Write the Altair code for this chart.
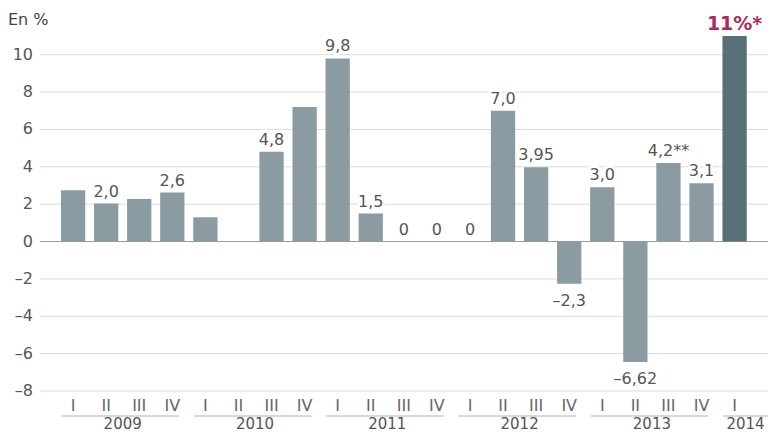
import altair as alt
import pandas as pd

# ---- data ----
quarters = ["I", "II", "III", "IV"] * 5 + ["I"]
years = [2009] * 4 + [2010] * 4 + [2011] * 4 + [2012] * 4 + [2013] * 4 + [2014]
values = [2.75, 2.03, 2.27, 2.62, 1.3, None, 4.8, 7.2, 9.8, 1.5, 0, 0,
          0, 7.0, 3.98, -2.26, 2.9, -6.45, 4.2, 3.12, 11.0]
labels = ["", "2,0", "", "2,6", "", "", "4,8", "", "9,8", "1,5", "0", "0",
          "0", "7,0", "3,95", "–2,3", "3,0", "–6,62", "4,2**", "3,1", "11%*"]
highlight = [False] * 20 + [True]

year_names = ["2009", "2010", "2011", "2012", "2013", "2014"]
year_first = [0, 4, 8, 12, 16, 20]
year_last = [3, 7, 11, 15, 19, 20]

y_ticks = [-8, -6, -4, -2, 0, 2, 4, 6, 8, 10]
y_tick_labels = ["–8", "–6", "–4", "–2", "0", "2", "4", "6", "8", "10"]

# ---- layout constants ----
W, H = 728, 355
X_MIN, X_MAX = -1, 21.01
HALF = 0.367
FONT = "DejaVu Sans"
BAR = "#8a9ba1"
BAR_DARK = "#5a7079"
TXT = "#555555"
RED = "#b3285c"

df = pd.DataFrame({
    "idx": list(range(len(values))),
    "quarter": quarters,
    "year": years,
    "value": values,
    "label": labels,
    "hl": highlight,
})

last_group = len(year_names) - 1
ydf = pd.DataFrame({
    "year": year_names,
    "first": year_first,
    "last": year_last,
})
ydf["x0"] = ydf["first"] - 0.35
ydf["x1"] = [l + 0.2 if i < last_group else X_MAX for i, l in enumerate(ydf["last"])]
ydf["xm"] = [(f + l) / 2 if i < last_group else (r0 + r1) / 2
             for i, (f, l, r0, r1) in enumerate(zip(ydf["first"], ydf["last"], ydf["x0"], ydf["x1"]))]

tdf = pd.DataFrame({"v": y_ticks, "t": y_tick_labels})

xs = alt.Scale(domain=[X_MIN, X_MAX], nice=False, zero=False)
ys = alt.Scale(domain=[-8, 11], nice=False, zero=False)

base = alt.Chart(df)

grid = alt.Chart(tdf).mark_rule(strokeWidth=1).encode(
    y=alt.Y("v:Q", scale=ys, axis=None),
    color=alt.condition("datum.v === 0", alt.value("#9a9a9a"), alt.value("#dcdcdc")),
)
ticklab = alt.Chart(tdf).mark_text(align="right", baseline="middle", fontSize=16,
                                   font=FONT, color=TXT).encode(
    y=alt.Y("v:Q"), x=alt.value(-7), text="t:N")

title = alt.Chart(tdf).transform_filter("datum.v === 0").mark_text(
    align="left", baseline="alphabetic", fontSize=16, font=FONT, color="#444444"
).encode(x=alt.value(-32), y=alt.value(-11), text=alt.value("En %"))

bars = base.transform_filter("isValid(datum.value)").transform_calculate(
    x0=f"datum.idx - {HALF}", x1=f"datum.idx + {HALF}"
).mark_rect().encode(
    x=alt.X("x0:Q", scale=xs, axis=None),
    x2="x1:Q",
    y=alt.Y("value:Q"),
    y2=alt.datum(0),
    color=alt.condition("datum.hl", alt.value(BAR_DARK), alt.value(BAR)),
)

pos = base.transform_filter("datum.label != '' && datum.value >= 0 && !datum.hl")
neg = base.transform_filter("datum.label != '' && datum.value < 0")


def lab(src, baseline, dy, **kw):
    return src.mark_text(baseline=baseline, dy=dy, fontSize=16, font=FONT, **kw).encode(
        x=alt.X("idx:Q"), y=alt.Y("value:Q"), text="label:N")


halo = lab(pos, "alphabetic", -7, stroke="white", strokeWidth=5, color="white") + \
    lab(neg, "top", 9, stroke="white", strokeWidth=5, color="white")
texts = lab(pos, "alphabetic", -7, color=TXT) + lab(neg, "top", 9, color=TXT)

big = base.transform_filter("datum.hl").mark_text(
    baseline="alphabetic", dy=-6, fontSize=19, fontWeight="bold", font=FONT, color=RED
).encode(x=alt.X("idx:Q"), y=alt.Y("value:Q"), text="label:N")

qlab = base.mark_text(baseline="middle", fontSize=16, font=FONT, color="#666666").encode(
    x=alt.X("idx:Q"), y=alt.value(H + 15), text="quarter:N")

yrule = alt.Chart(ydf).mark_rule(color="#b0b0b0", strokeWidth=1).encode(
    x=alt.X("x0:Q"), x2="x1:Q", y=alt.value(H + 25))

ylab = alt.Chart(ydf).mark_text(baseline="alphabetic", fontSize=15, font=FONT, color=TXT).encode(
    x=alt.X("xm:Q"), y=alt.value(H + 38), text="year:N")

chart = alt.layer(grid, ticklab, title, bars, halo, texts, big, qlab, yrule, ylab).properties(
    width=W, height=H,
    autosize=alt.AutoSizeParams(type="none"),
    padding={"left": 32, "top": 28, "right": 0, "bottom": 42},
).configure(font=FONT, view=alt.ViewConfig(stroke=None))

chart.save("out.html", embed_options={"renderer": "svg", "actions": False})
